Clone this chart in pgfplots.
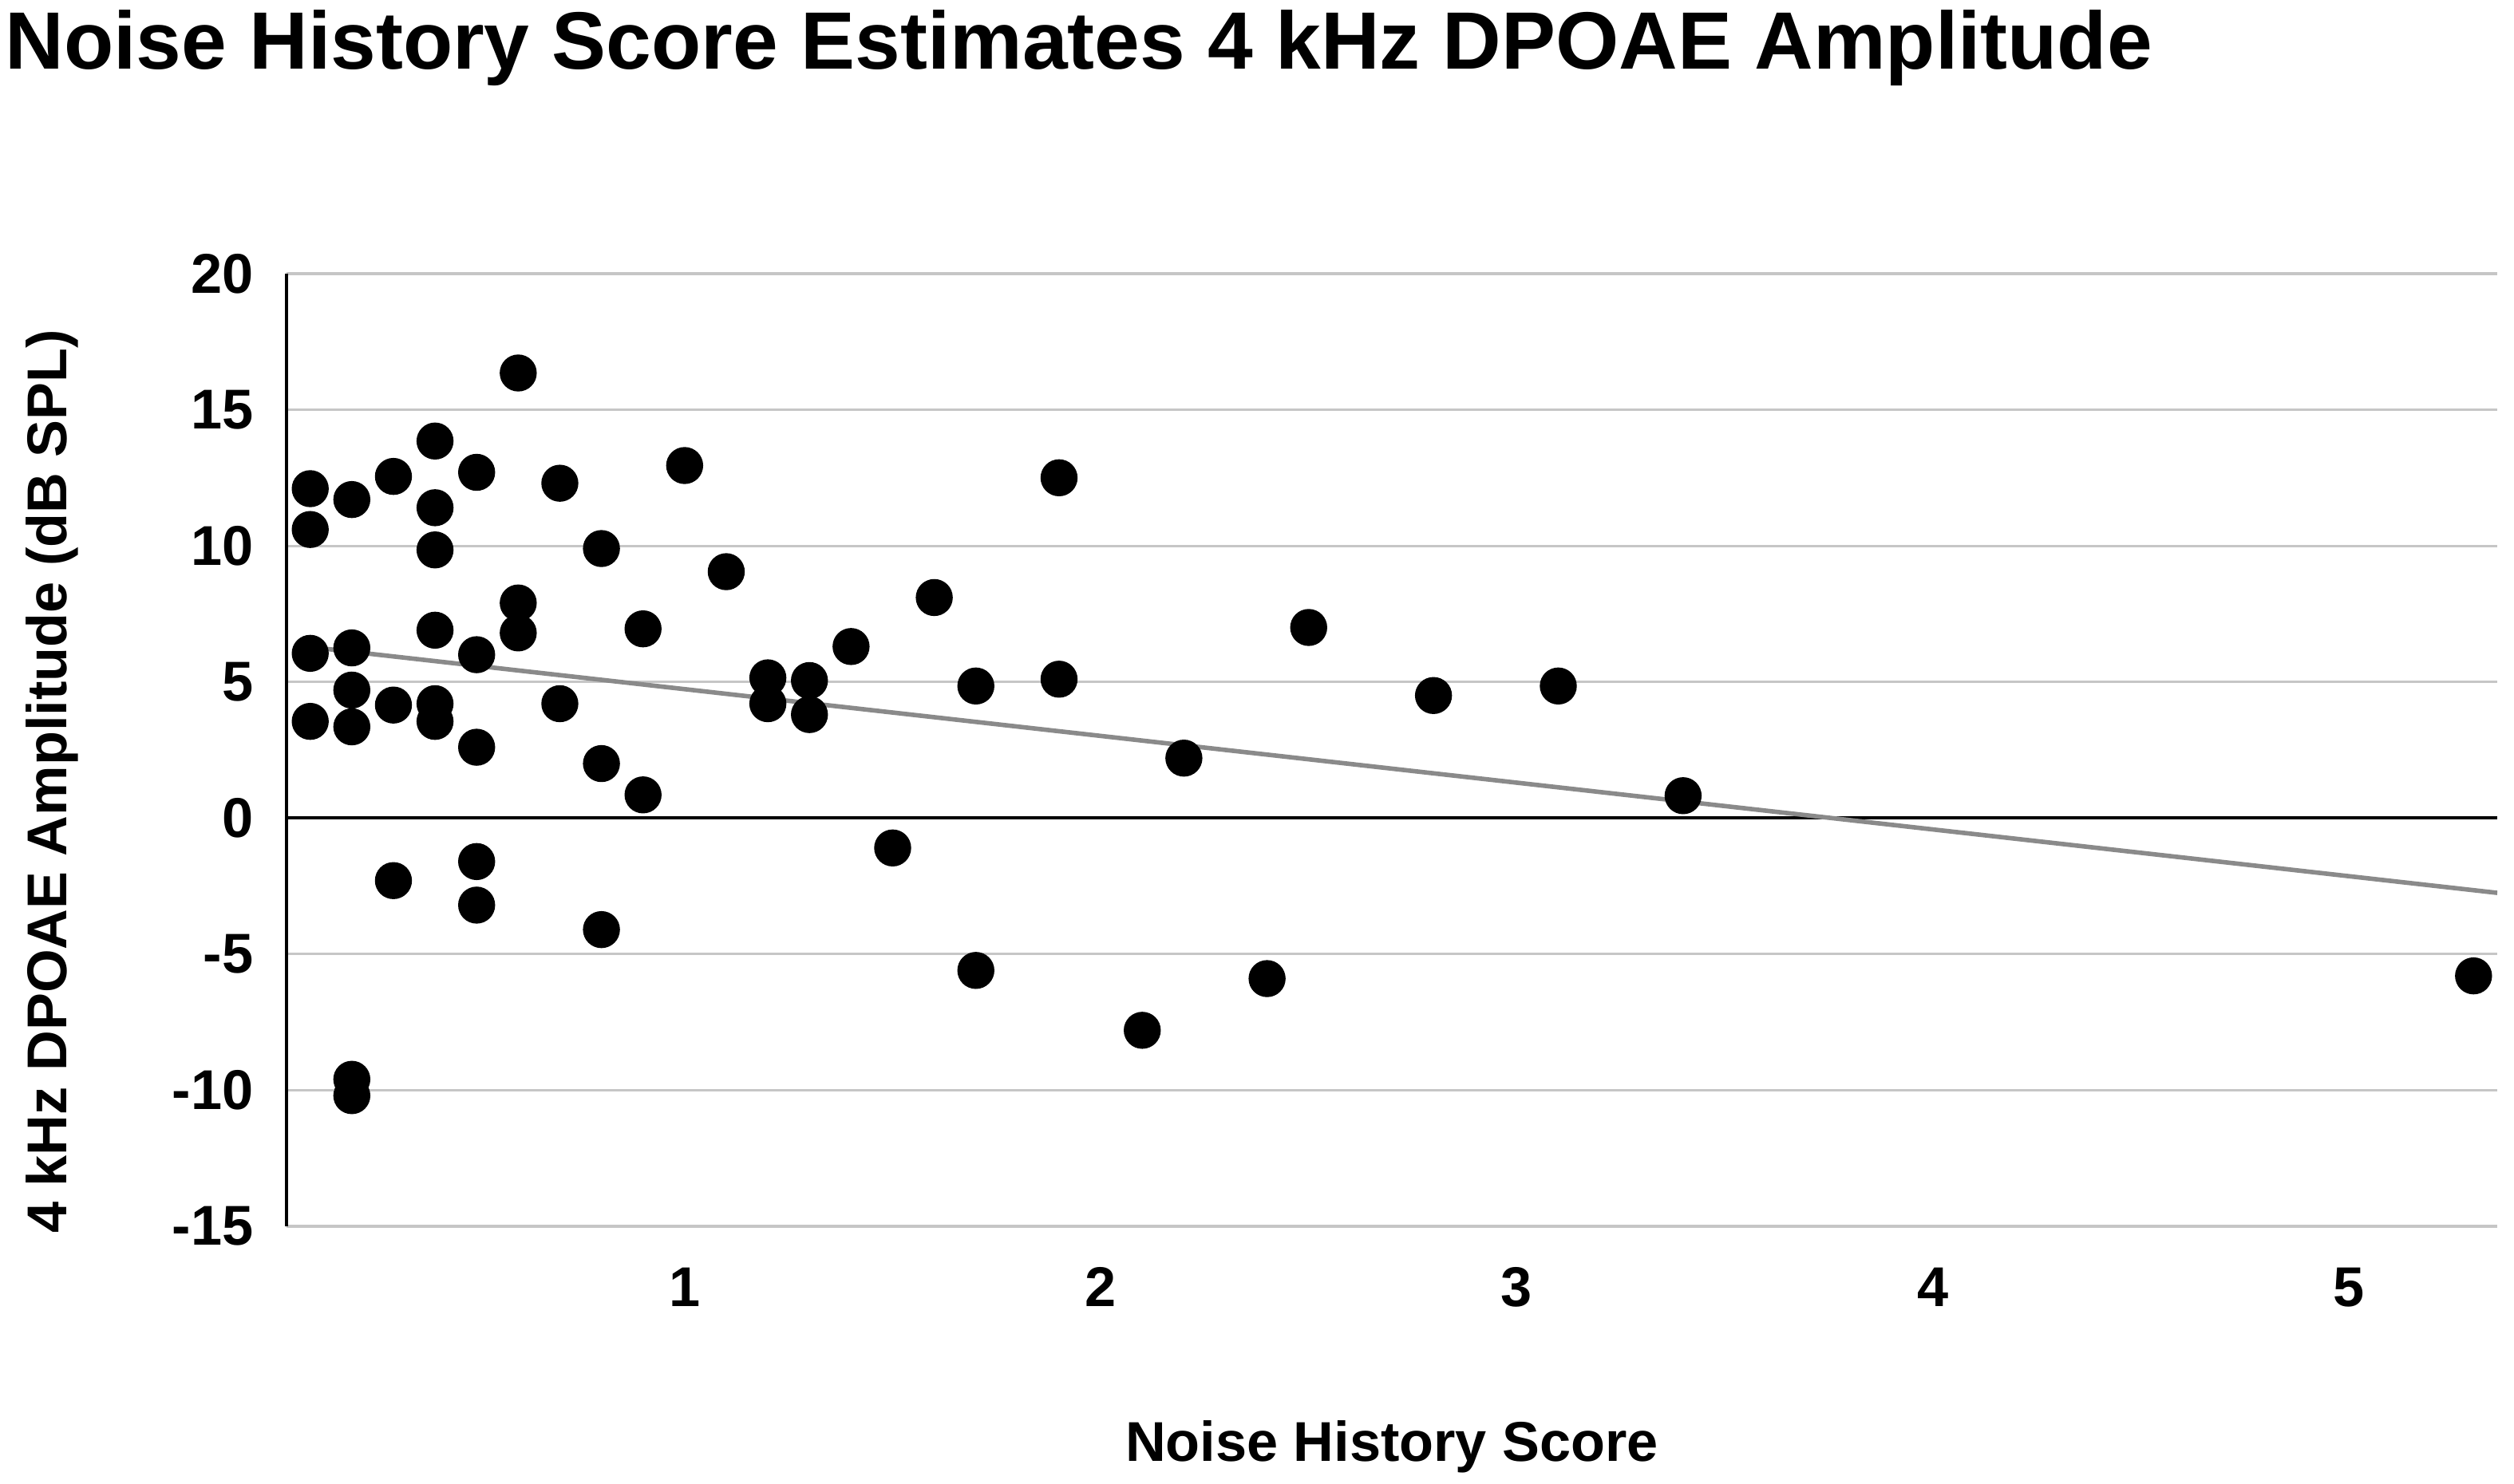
\documentclass[border=0pt]{standalone}
\usepackage{fontspec}
\setmainfont{Liberation Sans}
\usepackage{pgfplots}
\pgfplotsset{compat=1.18}
\usepackage{pgfplotstable}
\definecolor{gridgray}{HTML}{C6C6C6}
\definecolor{trendgray}{HTML}{8A8A8A}
\pgfplotstableread{
x y
0.1 12.1
0.1 10.6
0.1 6.05
0.1 3.55
0.2 11.7
0.2 6.25
0.2 4.7
0.2 3.35
0.2 -9.6
0.2 -10.2
0.3 12.55
0.3 4.15
0.3 -2.3
0.4 13.85
0.4 11.4
0.4 9.85
0.4 6.9
0.4 4.2
0.4 3.55
0.5 12.7
0.5 6.0
0.5 2.6
0.5 -1.6
0.5 -3.2
0.6 16.35
0.6 7.9
0.6 6.8
0.7 12.3
0.7 4.2
0.8 9.9
0.8 2.0
0.8 -4.1
0.9 6.95
0.9 0.85
1.0 12.95
1.1 9.05
1.2 5.15
1.2 4.2
1.3 5.05
1.3 3.8
1.4 6.3
1.5 -1.1
1.6 8.1
1.7 4.85
1.7 -5.6
1.9 12.5
1.9 5.1
2.1 -7.8
2.2 2.2
2.4 -5.9
2.5 7.0
2.8 4.5
3.1 4.85
3.4 0.82
5.3 -5.8
}\scatterdata
\begin{document}
\begin{tikzpicture}
\useasboundingbox (-3.59,-3.23) rectangle (27.91,15.37);
\begin{axis}[
  scale only axis,
  width=27.7cm, height=11.94cm,
  xmin=0.043, xmax=5.357,
  ymin=-15, ymax=20,
  xtick={1,2,3,4,5},
  ytick={-15,-10,-5,0,5,10,15,20},
  separate axis lines,
  axis lines*=left,
  x axis line style={draw=none},
  y axis line style={black, line width=1.2pt},
  major tick length=0pt,
  tick style={draw=none},
  ymajorgrids,
  major grid style={gridgray, line width=0.9pt},
  extra y ticks={0},
  extra y tick labels={},
  extra y tick style={grid=major, major grid style={black, line width=1.1pt}},
  /pgf/number format/assume math mode=true,
  ticklabel style={font=\fontsize{20}{24}\selectfont\bfseries},
  yticklabel style={anchor=east, inner sep=0pt, xshift=-0.41cm},
  xticklabel style={anchor=north, inner sep=0pt, yshift=-0.51cm},
  xlabel={Noise History Score},
  ylabel={4 kHz DPOAE Amplitude (dB SPL)},
  every axis x label/.style={at={(axis description cs:0.5,-0.2035)}, anchor=north, inner sep=0pt, font=\fontsize{20}{24}\selectfont\bfseries},
  every axis y label/.style={at={(axis description cs:-0.0993,0.467)}, rotate=90, anchor=base, inner sep=0pt, font=\fontsize{20}{24}\selectfont\bfseries},
]
\addplot[only marks, mark=*, mark size=6.4pt, draw=black, fill=black] table[x=x, y=y] {\scatterdata};
\addplot[trendgray, line width=1.6pt, no marks] coordinates {(0.1,6.28) (5.357,-2.75)};
\end{axis}
\node[anchor=base west, inner sep=0pt, font=\fontsize{29}{34}\selectfont\bfseries] at (-3.53,14.5) {Noise History Score Estimates 4 kHz DPOAE Amplitude};
\end{tikzpicture}
\end{document}
